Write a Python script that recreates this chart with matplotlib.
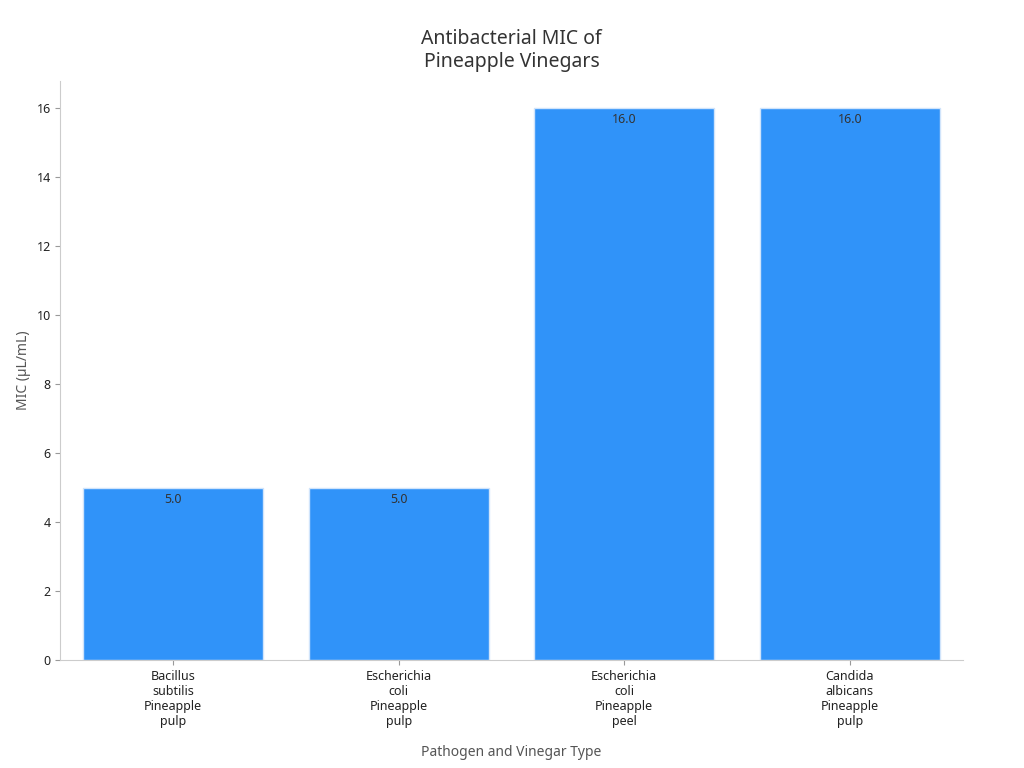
import matplotlib
matplotlib.use("Agg")
import matplotlib.pyplot as plt

categories = ["Bacillus\nsubtilis\nPineapple\npulp", "Escherichia\ncoli\nPineapple\npulp",
              "Escherichia\ncoli\nPineapple\npeel", "Candida\nalbicans\nPineapple\npulp"]
mic = [5.0, 5.0, 16.0, 16.0]

plt.rcParams['font.family'] = ['Noto Sans', 'DejaVu Sans']
fig, ax = plt.subplots(figsize=(10.24, 7.68), dpi=100)
fig.subplots_adjust(left=0.059, right=0.94, top=0.895, bottom=0.14)
x = range(len(categories))
bars = ax.bar(x, mic, width=0.8, color='#3093f9', edgecolor='#d0e4fb', linewidth=1)
for xi, v in zip(x, mic):
    ax.text(xi, v - 0.15, f"{v:.1f}", ha='center', va='top', fontsize=9, color='#333333')
ax.set_xticks(list(x))
ax.set_xticklabels(categories, fontsize=9, color='#222222')
ax.tick_params(axis='y', labelsize=9, colors='#222222')
ax.tick_params(color='#999999')
ax.set_xlim(-0.5, 3.5)
ax.set_ylim(0, 16.8)
ax.set_yticks(range(0, 17, 2))
for s in ['top', 'right']:
    ax.spines[s].set_visible(False)
for s in ['left', 'bottom']:
    ax.spines[s].set_color('#cccccc')
ax.set_ylabel("MIC (µL/mL)", fontsize=10, color='#555555')
ax.set_xlabel("Pathogen and Vinegar Type", fontsize=10, color='#555555', labelpad=12)
ax.set_title("Antibacterial MIC of\nPineapple Vinegars", fontsize=14, color='#333333', pad=10)
fig.savefig("out.png")
